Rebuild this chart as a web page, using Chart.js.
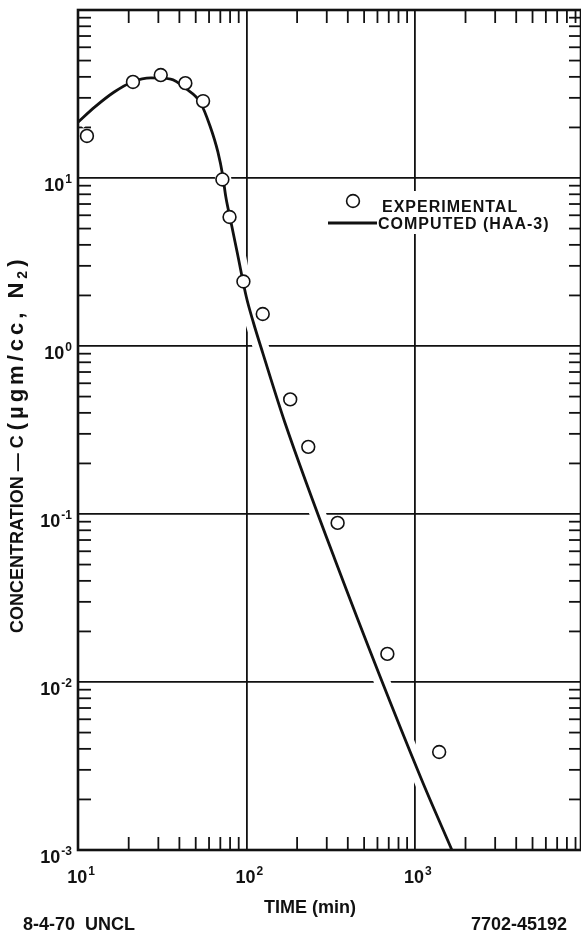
<!DOCTYPE html>
<html>
<head>
<meta charset="utf-8">
<script src="https://cdn.jsdelivr.net/npm/chart.js@4.4.1/dist/chart.umd.min.js"></script>
<style>
  html, body { margin: 0; padding: 0; background: #fff; overflow: hidden; }
  #wrap { width: 581px; height: 936px; position: relative; }
</style>
</head>
<body>
<div id="wrap"><canvas id="c"></canvas></div>
<script>
// Experimental concentrations: time (min) and concentration (µgm/cc, N2)
const expTime = [11.3, 21.2, 31.0, 43.4, 55.3, 72, 79.4, 96, 125, 182, 233, 348, 687, 1395];
const expConc = [17.8, 37.3, 41.0, 36.7, 28.7, 9.8, 5.86, 2.42, 1.55, 0.481, 0.251, 0.0885, 0.0147, 0.00383];

// Computed curve (HAA-3)
const compTime = [10, 12.6, 16.4, 21.0, 27.1, 35.5, 44.0, 53.1, 60.8, 67.7, 72.4, 75.4, 80.5, 88.5, 100, 110, 125, 169, 334, 1087, 1660];
const compConc = [21.5, 26.5, 32.5, 37.3, 39.4, 38.8, 33.9, 28.3, 20.4, 14.3, 10.3, 7.76, 5.62, 3.54, 1.95, 1.38, 0.91, 0.352, 0.0542, 0.00268, 0.001];

// Decade labels, written as 10 raised to the exponent
const xTickValues = [10, 100, 1000];
const xTickExponents = ['1', '2', '3'];
const yTickValues = [10, 1, 0.1, 0.01, 0.001];
const yTickExponents = ['1', '0', '-1', '-2', '-3'];

const xTitle = 'TIME (min)';
const yTitleMain = 'CONCENTRATION \u2014 C ';
const yTitleUnit = '(\u00B5gm/cc, N';
const yTitleSub = '2';
const legendLabels = ['EXPERIMENTAL', 'COMPUTED (HAA-3)'];
const footLeft = '8-4-70  UNCL';
const footRight = '7702-45192';

const FONT = '"Liberation Sans", Arial, Helvetica, sans-serif';
const INK = '#111';

// 1..9 within every decade; the powers of ten are flagged as major
function decadeTicks(min, max) {
  const ticks = [];
  const e0 = Math.floor(Math.log10(min) + 1e-9);
  const e1 = Math.ceil(Math.log10(max) - 1e-9);
  for (let e = e0; e <= e1; e++) {
    for (let m = 1; m <= 9; m++) {
      const v = parseFloat((m * Math.pow(10, e)).toPrecision(6));
      if (v >= min * 0.9999 && v <= max * 1.0001) ticks.push({ value: v, major: m === 1 });
    }
  }
  return ticks;
}

function powerLabel(ctx, exp, x, baseline, align) {
  ctx.font = 'bold 18px ' + FONT;
  const w1 = ctx.measureText('10').width;
  ctx.font = 'bold 12px ' + FONT;
  const w2 = ctx.measureText(exp).width;
  const total = w1 + 1 + w2;
  const x0 = align === 'right' ? x - total : x - total / 2;
  ctx.textAlign = 'left';
  ctx.textBaseline = 'alphabetic';
  ctx.font = 'bold 18px ' + FONT;
  ctx.fillText('10', x0, baseline);
  ctx.font = 'bold 12px ' + FONT;
  ctx.fillText(exp, x0 + w1 + 1, baseline - 8);
}

function seg(ctx, x1, y1, x2, y2) {
  ctx.beginPath();
  ctx.moveTo(x1, y1);
  ctx.lineTo(x2, y2);
  ctx.stroke();
}

// Inward minor tick marks on all four sides, the frame, labels and legend
const frameAndTicks = {
  id: 'frameAndTicks',
  beforeDatasetsDraw(chart) {
    const { ctx, chartArea: a, scales } = chart;
    ctx.save();
    ctx.strokeStyle = INK;
    ctx.lineWidth = 1.8;
    scales.x.ticks.forEach(t => {
      if (t.major) return;
      const px = scales.x.getPixelForValue(t.value);
      seg(ctx, px, a.top, px, a.top + 13);
      seg(ctx, px, a.bottom, px, a.bottom - 13);
    });
    scales.y.ticks.forEach(t => {
      if (t.major) return;
      const py = scales.y.getPixelForValue(t.value);
      seg(ctx, a.left, py, a.left + 13, py);
      seg(ctx, a.right, py, a.right - 12, py);
    });
    ctx.restore();
  },
  afterDatasetsDraw(chart) {
    const { ctx, chartArea: a } = chart;
    ctx.save();
    ctx.strokeStyle = INK;
    ctx.lineWidth = 2.6;
    ctx.strokeRect(a.left, a.top, a.right - a.left, a.bottom - a.top);
    ctx.restore();
  },
  afterDraw(chart) {
    const { ctx, scales } = chart;
    ctx.save();
    ctx.fillStyle = INK;

    // tick labels
    xTickValues.forEach((v, i) => {
      powerLabel(ctx, xTickExponents[i], scales.x.getPixelForValue(v) + 3, 883, 'center');
    });
    yTickValues.forEach((v, i) => {
      powerLabel(ctx, yTickExponents[i], 72, scales.y.getPixelForValue(v) + 13, 'right');
    });

    // axis titles
    ctx.font = 'bold 18px ' + FONT;
    ctx.textAlign = 'center';
    ctx.textBaseline = 'alphabetic';
    ctx.fillText(xTitle, 310, 913);

    ctx.save();
    ctx.translate(23, 633);
    ctx.rotate(-Math.PI / 2);
    ctx.textAlign = 'left';
    ctx.font = 'bold 18px ' + FONT;
    ctx.fillText(yTitleMain, 0, 0);
    let x = ctx.measureText(yTitleMain).width;
    ctx.font = 'bold 22px ' + FONT;
    ctx.letterSpacing = '4px';
    ctx.fillText(yTitleUnit, x, 0);
    x += ctx.measureText(yTitleUnit).width;
    ctx.letterSpacing = '0px';
    ctx.font = 'bold 14px ' + FONT;
    ctx.fillText(yTitleSub, x, 4);
    x += ctx.measureText(yTitleSub).width + 4;
    ctx.font = 'bold 22px ' + FONT;
    ctx.fillText(')', x, 0);
    ctx.restore();

    // footer notes
    ctx.font = 'bold 18px ' + FONT;
    ctx.textAlign = 'left';
    ctx.fillText(footLeft, 23, 930);
    ctx.textAlign = 'right';
    ctx.fillText(footRight, 567, 930);

    // legend
    ctx.fillStyle = '#fff';
    ctx.fillRect(379, 191, 176, 43);
    const ds = chart.data.datasets;
    ctx.beginPath();
    ctx.arc(353, 201, ds[0].pointRadius, 0, Math.PI * 2);
    ctx.fillStyle = ds[0].backgroundColor;
    ctx.fill();
    ctx.lineWidth = ds[0].borderWidth;
    ctx.strokeStyle = ds[0].borderColor;
    ctx.stroke();
    ctx.lineWidth = ds[1].borderWidth;
    ctx.strokeStyle = ds[1].borderColor;
    seg(ctx, 328, 223, 377, 223);
    ctx.fillStyle = INK;
    ctx.font = 'bold 16px ' + FONT;
    ctx.letterSpacing = '1px';
    ctx.textAlign = 'left';
    ctx.fillText(legendLabels[0], 382, 212);
    ctx.fillText(legendLabels[1], 378, 229);
    ctx.letterSpacing = '0px';
    ctx.restore();
  }
};

const gridColor = c => (c.tick && c.tick.major) ? INK : 'rgba(0,0,0,0)';
const computedPoints = compTime.map((t, i) => ({ x: t, y: compConc[i] }));

new Chart(document.getElementById('c'), {
  type: 'scatter',
  data: {
    datasets: [
      {
        label: legendLabels[0],
        data: expTime.map((t, i) => ({ x: t, y: expConc[i] })),
        pointStyle: 'circle',
        pointRadius: 6.4,
        borderWidth: 1.6,
        borderColor: INK,
        backgroundColor: '#fff',
        showLine: false,
        order: 0
      },
      {
        label: legendLabels[1],
        data: computedPoints,
        showLine: true,
        borderColor: INK,
        backgroundColor: INK,
        borderWidth: 2.8,
        pointRadius: 0,
        cubicInterpolationMode: 'monotone',
        fill: false,
        order: 1
      },
      {
        // white margin that keeps the grid rules clear of the curve
        label: 'curve margin',
        data: computedPoints,
        showLine: true,
        borderColor: '#fff',
        borderWidth: 16,
        pointRadius: 0,
        cubicInterpolationMode: 'monotone',
        fill: false,
        order: 2
      }
    ]
  },
  options: {
    responsive: true,
    maintainAspectRatio: false,
    animation: false,
    events: [],
    layout: { autoPadding: false, padding: { top: 10, right: 0, left: 0, bottom: 0 } },
    plugins: { legend: { display: false }, tooltip: { enabled: false } },
    scales: {
      x: {
        type: 'logarithmic',
        min: 10,
        max: 9700,
        afterBuildTicks: s => { s.ticks = decadeTicks(s.min, s.max); },
        afterFit: s => { s.height = 86; },
        grid: { color: gridColor, lineWidth: 1.8, drawTicks: false },
        border: { display: false },
        ticks: { display: false, autoSkip: false }
      },
      y: {
        type: 'logarithmic',
        min: 0.001,
        max: 100,
        afterBuildTicks: s => { s.ticks = decadeTicks(s.min, s.max); },
        afterFit: s => { s.width = 78; },
        grid: { color: gridColor, lineWidth: 1.8, drawTicks: false },
        border: { display: false },
        ticks: { display: false, autoSkip: false }
      }
    }
  },
  plugins: [frameAndTicks]
});
</script>
</body>
</html>
